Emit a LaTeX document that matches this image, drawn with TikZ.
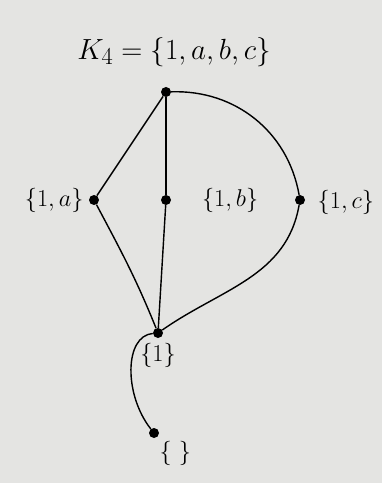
\documentclass[tikz,border=0pt]{standalone}
\usepackage{tikz}
\usetikzlibrary{positioning}
\definecolor{paper}{RGB}{228,228,226}

\begin{document}
\begin{tikzpicture}[x=0.03cm, y=0.03cm,
  every node/.style={font=\huge},
  dot/.style={circle, fill=black, inner sep=0pt, minimum size=0.3cm},
  edgestyle/.style={line width=1.2pt, color=black}
]
  \fill[paper] (0,0) rectangle (382,-483);
  \useasboundingbox (0,0) rectangle (382,-483);

  \node[dot] (top) at (166,-92) {};
  \node[dot] (sa) at (94,-200) {};
  \node[dot] (sb) at (166,-200) {};
  \node[dot] (sc) at (300,-200) {};
  \node[dot] (one) at (158,-333) {};
  \node[dot] (empty) at (154,-433) {};

  \node[font=\Huge] (title) at (174,-52) {$K_4 = \{1, a, b, c\}$};
  \node[left=1pt of sa] (la) {$\{1, a\}$};
  \node[right=0.8cm of sb] (lb) {$\{1, b\}$};
  \node[right=0.25cm of sc, yshift=-2pt] (lc) {$\{1, c\}$};
  \node[below=1pt of one] (lone) {$\{1\}$};
  \node[below right=0pt and -2pt of empty] (lempty) {$\{\ \}$};

  \draw[edgestyle] (top) -- (sa);
  \draw[edgestyle] (top) -- (sb);
  \draw[edgestyle] (top) to[out=2, in=100] (sc);
  \draw[edgestyle] (sa) to[out=-62, in=112] (one);
  \draw[edgestyle] (sb) -- (one);
  \draw[edgestyle] (sc) to[out=-100, in=35] (one);
  \draw[edgestyle] (one) .. controls (124,-336) and (124,-395) .. (empty);
\end{tikzpicture}
\end{document}
